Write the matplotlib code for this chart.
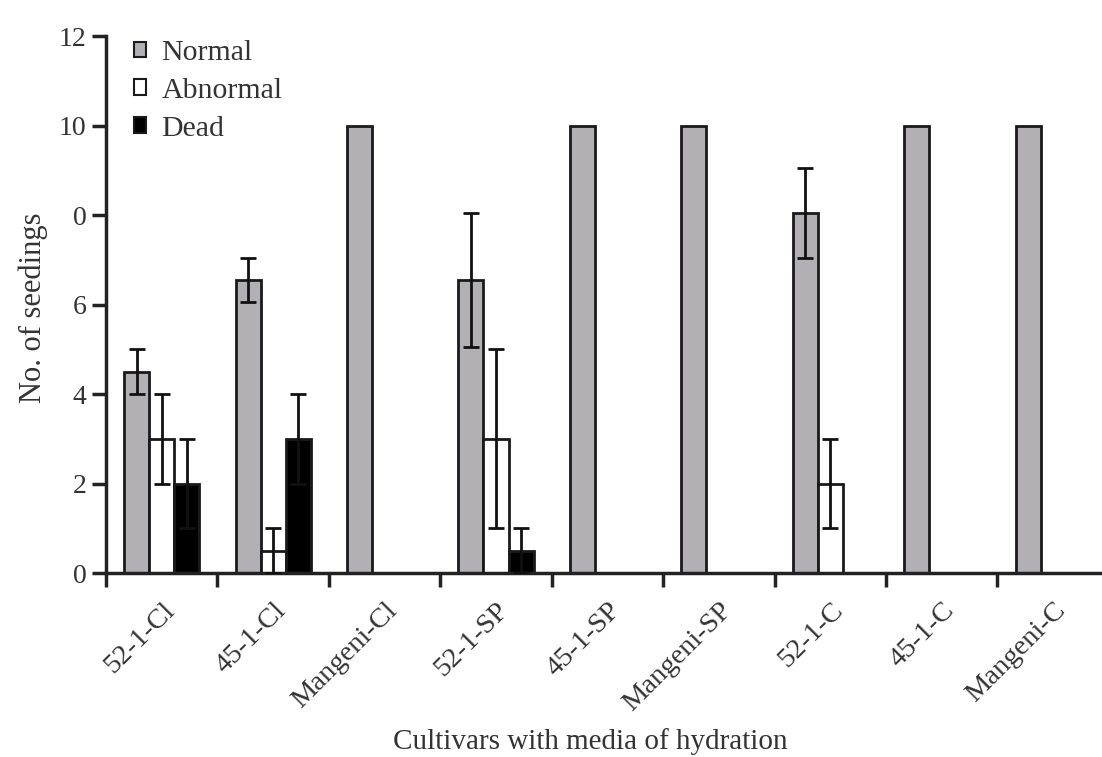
import matplotlib
matplotlib.use("Agg")
import matplotlib.pyplot as plt
import numpy as np
from matplotlib.patches import Patch

plt.rcParams['font.family'] = ['Liberation Serif', 'DejaVu Serif']

categories = ["52-1-Cl", "45-1-Cl", "Mangeni-Cl", "52-1-SP", "45-1-SP",
              "Mangeni-SP", "52-1-C", "45-1-C", "Mangeni-C"]
normal = [4.5, 6.55, 10, 6.55, 10, 10, 8.05, 10, 10]
normal_err = [0.5, 0.5, 0, 1.5, 0, 0, 1.0, 0, 0]
abnormal = [3, 0.5, 0, 3, 0, 0, 2, 0, 0]
abnormal_err = [1, 0.5, 0, 2, 0, 0, 1.0, 0, 0]
dead = [2, 3, 0, 0.5, 0, 0, 0, 0, 0]
dead_err = [1, 1, 0, 0.5, 0, 0, 0, 0, 0]
ytick_vals = [0, 2, 4, 6, 8, 10, 12]
ytick_labels = ["0", "2", "4", "6", "0", "10", "12"]

series = [("Normal", normal, normal_err, "#b2b0b4"),
          ("Abnormal", abnormal, abnormal_err, "white"),
          ("Dead", dead, dead_err, "black")]

fig = plt.figure(figsize=(11.02, 7.57), dpi=100)
ax = fig.add_axes([0.0962, 0.243, 0.902, 0.7094])

x = np.arange(len(categories))
w = 0.225
offsets = [-w, 0, w]
for (name, vals, errs, col), off in zip(series, offsets):
    xs = x + off
    ax.bar(xs, vals, width=w, color=col, edgecolor="#1a1a1a", linewidth=2.0, zorder=2)
    vals_a = np.array(vals, dtype=float)
    errs_a = np.array(errs, dtype=float)
    m = errs_a > 0
    ax.errorbar(xs[m], vals_a[m], yerr=errs_a[m], fmt="none", ecolor="#111111",
                elinewidth=2.0, capsize=6, capthick=2.0, zorder=3)

ax.set_xlim(-0.5, 8.42)
ax.set_ylim(0, 12)
ax.spines['top'].set_visible(False)
ax.spines['right'].set_visible(False)
ax.spines['left'].set_linewidth(2.5)
ax.spines['bottom'].set_linewidth(2.5)
ax.spines['left'].set_color("#222222")
ax.spines['bottom'].set_color("#222222")

ax.set_yticks(ytick_vals)
ax.set_yticklabels(ytick_labels, fontsize=20, color="#333333")
ax.tick_params(axis='y', length=10, width=2.5, color="#222222", pad=4)

ax.set_xticks(x)
ax.set_xticklabels(categories, rotation=45, ha='right', rotation_mode='anchor',
                   fontsize=20.5, color="#333333")
ax.tick_params(axis='x', which='major', length=0, pad=18)
ax.set_xticks(np.arange(-0.5, 8.0, 1.0), minor=True)
ax.tick_params(axis='x', which='minor', length=10, width=2.5, color="#222222")

fig.text(33 / 1102, 1 - 308 / 757, "No. of seedings", rotation=90, fontsize=22,
         color="#333333", ha='center', va='center')
fig.text(590 / 1102, 1 - 742 / 757, "Cultivars with media of hydration", fontsize=21,
         color="#333333", ha='center', va='center')

handles = [Patch(facecolor=c, edgecolor="#1a1a1a", linewidth=1.5, label=n)
           for n, _, _, c in series]
leg = ax.legend(handles=handles, loc='upper left', bbox_to_anchor=(0.016, 1.015),
                frameon=False, fontsize=21.5, handlelength=0.42, handleheight=0.42,
                handletextpad=0.5, labelspacing=0.4, borderaxespad=0)
for t in leg.get_texts():
    t.set_color("#333333")

fig.savefig("out.png", dpi=100)
